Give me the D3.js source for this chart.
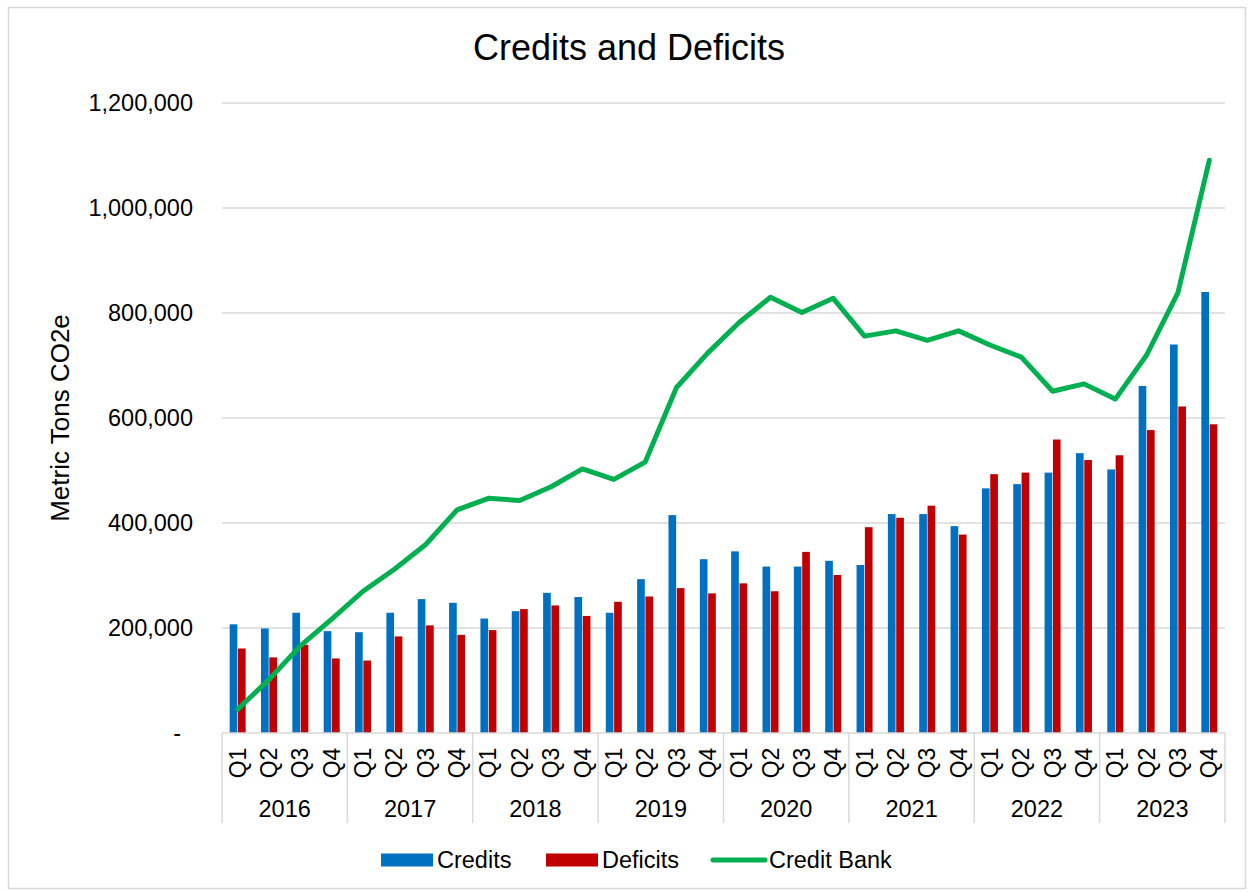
<!DOCTYPE html>
<html>
<head>
<meta charset="utf-8">
<script src="https://cdn.jsdelivr.net/npm/d3@7"></script>
<style>
  body { margin: 0; background: #fff; }
  text { font-family: "Liberation Sans", Arial, sans-serif; fill: #000; }
</style>
</head>
<body>
<svg id="myGraph" width="1254" height="892"></svg>
<script>
// data, in metric tons CO2e
var years = ["2016", "2017", "2018", "2019", "2020", "2021", "2022", "2023"];
var quarters = ["Q1", "Q2", "Q3", "Q4"];
var credits = [207000, 199000, 229000, 194000, 192000, 229000, 255000, 248000,
               218000, 232000, 267000, 259000, 229000, 293000, 415000, 331000,
               346000, 317000, 317000, 328000, 320000, 417000, 417000, 394000,
               466000, 474000, 496000, 533000, 502000, 661000, 740000, 840000];
var deficits = [161000, 144000, 168000, 142000, 138000, 184000, 205000, 187000,
                196000, 236000, 243000, 223000, 250000, 260000, 276000, 266000,
                285000, 270000, 345000, 301000, 392000, 410000, 433000, 378000,
                493000, 496000, 559000, 520000, 529000, 577000, 622000, 588000];
var creditBank = [45000, 102000, 166000, 217000, 270000, 312000, 359000, 425000,
                  447000, 443000, 469000, 503000, 483000, 516000, 658000, 724000,
                  782000, 830000, 801000, 828000, 756000, 766000, 748000, 766000,
                  739000, 716000, 651000, 665000, 636000, 720000, 839000, 1091000];
var yTicks = [0, 200000, 400000, 600000, 800000, 1000000, 1200000];

var svg = d3.select("#myGraph");

// chart frame
svg.append("rect")
    .attr("x", 8.5).attr("y", 7.5)
    .attr("width", 1237).attr("height", 881)
    .attr("fill", "#fff")
    .attr("stroke", "#d9d9d9")
    .attr("stroke-width", 1.5);

var plotLeft = 222, plotRight = 1225, plotTop = 103, plotBottom = 733;

// one key per quarter
var keys = [];
years.forEach(function(yr){
    quarters.forEach(function(q){ keys.push(yr + "-" + q); });
});

var x = d3.scaleBand().domain(keys).range([plotLeft, plotRight]).padding(0);
var y = d3.scaleLinear().domain([0, 1200000]).range([plotBottom, plotTop]);
var inner = d3.scaleBand().domain(["c", "d"]).range([0, 16]).paddingInner(0.08);
var off = (x.bandwidth() - 16) / 2;

// gridlines
svg.append("g").selectAll("line")
    .data(yTicks.filter(function(d){ return d > 0; }))
    .enter().append("line")
    .attr("x1", plotLeft).attr("x2", plotRight)
    .attr("y1", function(d){ return y(d); })
    .attr("y2", function(d){ return y(d); })
    .attr("stroke", "#d9d9d9").attr("stroke-width", 1.5);

// y labels
var fmt = d3.format(",");
svg.append("g").selectAll("text")
    .data(yTicks)
    .enter().append("text")
    .attr("x", function(d){ return d === 0 ? 181 : 193; })
    .attr("y", function(d){ return y(d); })
    .attr("dy", "0.35em")
    .attr("text-anchor", "end")
    .style("font-size", "23.5px")
    .text(function(d){ return d === 0 ? "-" : fmt(d); });

svg.append("text")
    .attr("transform", "translate(69,418) rotate(-90)")
    .attr("text-anchor", "middle")
    .style("font-size", "26px")
    .text("Metric Tons CO2e");

// title
svg.append("text")
    .attr("x", 629).attr("y", 60)
    .attr("text-anchor", "middle")
    .style("font-size", "36px")
    .text("Credits and Deficits");

// bars
var bars = svg.append("g");
bars.selectAll("rect.credit")
    .data(credits)
    .enter().append("rect")
    .attr("class", "credit")
    .attr("x", function(d, i){ return x(keys[i]) + off + inner("c"); })
    .attr("y", function(d){ return y(d); })
    .attr("width", inner.bandwidth())
    .attr("height", function(d){ return plotBottom - y(d); })
    .attr("fill", "#0070C0");

bars.selectAll("rect.deficit")
    .data(deficits)
    .enter().append("rect")
    .attr("class", "deficit")
    .attr("x", function(d, i){ return x(keys[i]) + off + inner("d"); })
    .attr("y", function(d){ return y(d); })
    .attr("width", inner.bandwidth())
    .attr("height", function(d){ return plotBottom - y(d); })
    .attr("fill", "#C00000");

// category axis
svg.append("line")
    .attr("x1", plotLeft).attr("x2", plotRight)
    .attr("y1", plotBottom).attr("y2", plotBottom)
    .attr("stroke", "#d9d9d9").attr("stroke-width", 1.5);

var yearEdges = years.map(function(yr){ return x(yr + "-Q1"); });
yearEdges.push(plotRight);
svg.append("g").selectAll("line")
    .data(yearEdges)
    .enter().append("line")
    .attr("x1", function(d){ return d; }).attr("x2", function(d){ return d; })
    .attr("y1", plotBottom).attr("y2", 823)
    .attr("stroke", "#d9d9d9").attr("stroke-width", 1.5);

svg.append("g").selectAll("text")
    .data(keys)
    .enter().append("text")
    .attr("transform", function(d){
        return "translate(" + (x(d) + x.bandwidth() / 2) + ",763) rotate(-90)";
    })
    .attr("text-anchor", "middle")
    .attr("dy", "0.35em")
    .style("font-size", "23px")
    .text(function(d){ return d.split("-")[1]; });

svg.append("g").selectAll("text")
    .data(years)
    .enter().append("text")
    .attr("x", function(d){ return x(d + "-Q1") + x.bandwidth() * 2; })
    .attr("y", 809)
    .attr("dy", "0.35em")
    .attr("text-anchor", "middle")
    .style("font-size", "23.5px")
    .text(function(d){ return d; });

// credit bank line
var line = d3.line()
    .x(function(d, i){ return x(keys[i]) + x.bandwidth() / 2; })
    .y(function(d){ return y(d); });

svg.append("path")
    .datum(creditBank)
    .attr("d", line)
    .attr("fill", "none")
    .attr("stroke", "#00B050")
    .attr("stroke-width", 5)
    .attr("stroke-linejoin", "round")
    .attr("stroke-linecap", "round");

// legend
var legend = svg.append("g");
var ly = 860;
legend.append("rect").attr("x", 381).attr("y", ly - 6.5).attr("width", 52).attr("height", 13).attr("fill", "#0070C0");
legend.append("text").attr("x", 437).attr("y", ly).attr("dy", "0.35em").style("font-size", "23.5px").text("Credits");
legend.append("rect").attr("x", 546).attr("y", ly - 6.5).attr("width", 52).attr("height", 13).attr("fill", "#C00000");
legend.append("text").attr("x", 602).attr("y", ly).attr("dy", "0.35em").style("font-size", "23.5px").text("Deficits");
legend.append("line").attr("x1", 713).attr("x2", 765).attr("y1", ly).attr("y2", ly)
    .attr("stroke", "#00B050").attr("stroke-width", 5).attr("stroke-linecap", "round");
legend.append("text").attr("x", 769).attr("y", ly).attr("dy", "0.35em").style("font-size", "23.5px").text("Credit Bank");
</script>
</body>
</html>
